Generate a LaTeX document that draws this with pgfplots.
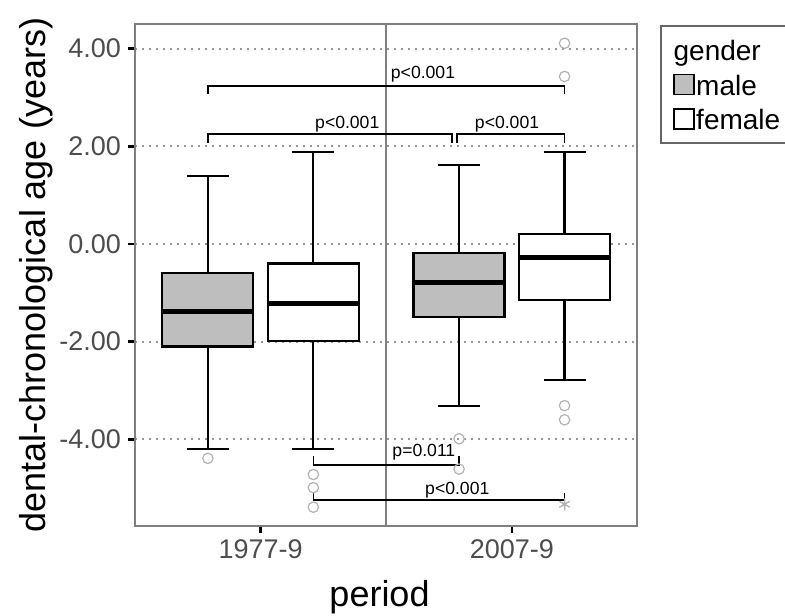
\documentclass[border=0pt]{standalone}
\usepackage{fontspec}
\setmainfont{Liberation Sans}
\usepackage{pgfplots}
\pgfplotsset{compat=1.18}
\usepgfplotslibrary{statistics}
\definecolor{malegray}{RGB}{190,190,190}
\definecolor{outgray}{RGB}{178,178,178}
\definecolor{framegray}{RGB}{127,127,127}
\definecolor{gridgray}{RGB}{150,150,150}
\definecolor{ticktext}{RGB}{77,77,77}
\newcommand{\pfont}{\fontsize{8.8}{10}\selectfont}
\begin{document}
\begin{tikzpicture}
\path[use as bounding box] (0,0) rectangle (392.5pt,307.5pt);
\begin{axis}[
  at={(67.5pt,44.5pt)}, anchor=south west,
  scale only axis, width=251.2pt, height=251pt,
  xmin=0.5, xmax=2.5, ymin=-5.775, ymax=4.505,
  xtick={1,2}, xticklabels={1977-9,2007-9},
  ytick={-4,-2,0,2,4}, yticklabels={-4.00,-2.00,0.00,2.00,4.00},
  tick pos=left, tick align=outside, major tick length=3.5pt,
  tick style={black, line width=1.2pt},
  axis line style={framegray, line width=1pt},
  ticklabel style={font=\fontsize{13.5}{16}\selectfont, text=ticktext},
  ymajorgrids, major grid style={gridgray, line width=0.9pt, dash pattern=on 0.9pt off 2.6pt},
  xlabel={period}, ylabel={dental-chronological age (years)},
  every axis x label/.style={at={(axis description cs:0.4867,-0.1608)}, anchor=base, font=\fontsize{18}{20}\selectfont},
  every axis y label/.style={at={(axis description cs:-0.179,0.5)}, rotate=90, anchor=base, font=\fontsize{18}{20}\selectfont},
  legend style={at={(1.045,0.998)}, anchor=north west, draw=black!60, line width=1pt, fill=white,
    inner xsep=6pt, inner ysep=3.25pt, font=\fontsize{14}{16}\selectfont,
    nodes={inner xsep=0.8pt, inner ysep=0pt, text height=14pt, text depth=3.3pt},
    row sep=0pt, column sep=0pt},
  legend cell align=left,
  boxplot/draw direction=y,
]
% separator
\addplot[forget plot, framegray, line width=1pt] coordinates {(1.5,-5.775) (1.5,4.505)};
% boxes
\addplot[forget plot, draw=black, fill=malegray, line width=1.1pt,
  boxplot/draw direction=y,
  boxplot/every median/.style={line width=2.5pt},
  boxplot prepared={draw position=0.79, lower whisker=-4.20, lower quartile=-2.10, median=-1.39,
    upper quartile=-0.60, upper whisker=1.39, box extend=0.362, whisker extend=0.167}] coordinates {};
\addplot[forget plot, draw=black, fill=white, line width=1.1pt,
  boxplot/draw direction=y,
  boxplot/every median/.style={line width=2.5pt},
  boxplot prepared={draw position=1.21, lower whisker=-4.20, lower quartile=-1.99, median=-1.21,
    upper quartile=-0.40, upper whisker=1.89, box extend=0.362, whisker extend=0.167}] coordinates {};
\addplot[forget plot, draw=black, fill=malegray, line width=1.1pt,
  boxplot/draw direction=y,
  boxplot/every median/.style={line width=2.5pt},
  boxplot prepared={draw position=1.79, lower whisker=-3.32, lower quartile=-1.49, median=-0.78,
    upper quartile=-0.18, upper whisker=1.61, box extend=0.362, whisker extend=0.167}] coordinates {};
\addplot[forget plot, draw=black, fill=white, line width=1.1pt,
  boxplot/draw direction=y,
  boxplot/every median/.style={line width=2.5pt},
  boxplot prepared={draw position=2.21, lower whisker=-2.79, lower quartile=-1.15, median=-0.28,
    upper quartile=0.21, upper whisker=1.89, box extend=0.362, whisker extend=0.167}] coordinates {};
% outliers
\addplot[forget plot, only marks, mark=o, mark size=2.6pt, mark options={draw=outgray, line width=0.6pt}]
  coordinates {(0.79,-4.39) (1.21,-4.72) (1.21,-4.99) (1.21,-5.39) (1.79,-3.99) (1.79,-4.61)
               (2.21,4.11) (2.21,3.43) (2.21,-3.31) (2.21,-3.60)};
\addplot[forget plot, only marks, mark=asterisk, mark size=3pt, mark options={draw=outgray, line width=0.7pt}]
  coordinates {(2.21,-5.33)};
% brackets
\addplot[forget plot, black, line width=0.8pt] coordinates {(0.79,3.07) (0.79,3.24) (2.21,3.24) (2.21,3.07)};
\addplot[forget plot, black, line width=0.8pt] coordinates {(0.79,2.07) (0.79,2.25) (1.763,2.25) (1.763,2.07)};
\addplot[forget plot, black, line width=0.8pt] coordinates {(1.781,2.07) (1.781,2.25) (2.21,2.25) (2.21,2.07)};
\addplot[forget plot, black, line width=0.8pt] coordinates {(1.21,-4.35) (1.21,-4.53) (1.79,-4.53) (1.79,-4.35)};
\addplot[forget plot, black, line width=0.8pt] coordinates {(1.21,-5.09) (1.21,-5.24) (2.21,-5.24) (2.21,-5.09)};
\node[font=\pfont, anchor=base] at (axis cs:1.6465,3.38) {p<0.001};
\node[font=\pfont, anchor=base] at (axis cs:1.345,2.37) {p<0.001};
\node[font=\pfont, anchor=base] at (axis cs:1.981,2.37) {p<0.001};
\node[font=\pfont, anchor=base] at (axis cs:1.650,-4.35) {p=0.011};
\node[font=\pfont, anchor=base] at (axis cs:1.783,-5.14) {p<0.001};
% legend
\addlegendimage{legend image code/.code={\path[draw=none,fill=none] (0pt,-5pt) rectangle (10pt,5pt);}}
\addlegendentry{\hspace*{-11.3pt}gender}
\addlegendimage{legend image code/.code={\draw[fill=malegray,draw=black,line width=0.8pt] (0pt,-5pt) rectangle (10pt,5pt);}}
\addlegendentry{male}
\addlegendimage{legend image code/.code={\draw[fill=white,draw=black,line width=0.8pt] (0pt,-5pt) rectangle (10pt,5pt);}}
\addlegendentry{female\rule{18pt}{0pt}}
\end{axis}
\end{tikzpicture}
\end{document}
